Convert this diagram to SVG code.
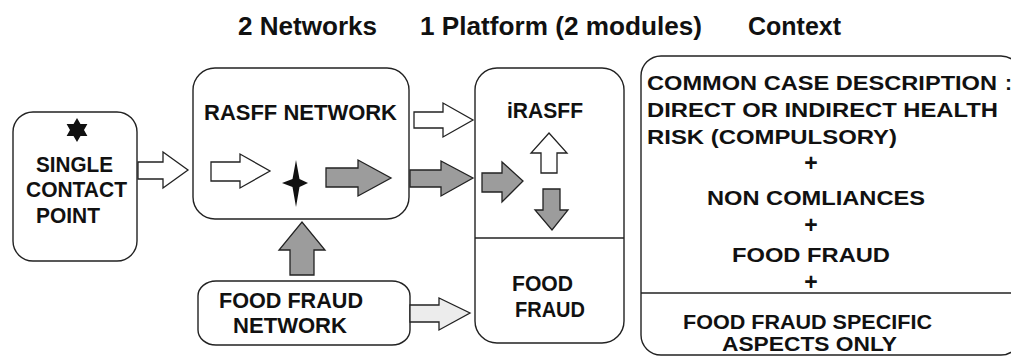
<svg xmlns="http://www.w3.org/2000/svg" width="1011" height="356" viewBox="0 0 1011 356">
<style>
  text { font-family: "Liberation Sans", Arial, sans-serif; font-weight: bold; fill: #111; }
  .title { font-size: 25px; }
  .lbl { font-size: 21.5px; }
  .ctx { font-size: 21px; }
  .plus { font-size: 23px; }
  .box { fill: #fff; stroke: #222; stroke-width: 1.4; }
  .line { stroke: #222; stroke-width: 1.4; fill: none; }
  .aw { fill: #fff; stroke: #222; stroke-width: 1.3; stroke-linejoin: miter; }
  .ag { fill: #9c9c9c; stroke: #222; stroke-width: 1.3; }
  .al { fill: #ececec; stroke: #222; stroke-width: 1.3; }
  .star { fill: #111; }
</style>
<rect width="1011" height="356" fill="#fff"/>

<g id="titles">
  <text class="title" x="238" y="35" textLength="139" lengthAdjust="spacingAndGlyphs">2 Networks</text>
  <text class="title" x="420" y="35" textLength="282" lengthAdjust="spacingAndGlyphs">1 Platform (2 modules)</text>
  <text class="title" x="748" y="35" textLength="93" lengthAdjust="spacingAndGlyphs">Context</text>
</g>

<g id="single-contact-point">
  <rect class="box" x="13" y="112" width="124" height="149" rx="20"/>
  <polygon class="star" points="77,118 80.5,123.9 87.4,124 84,130 87.4,136 80.5,136.1 77,142 73.5,136.1 66.6,136 70,130 66.6,124 73.5,123.9"/>
  <text class="lbl" x="36" y="172" textLength="77" lengthAdjust="spacingAndGlyphs">SINGLE</text>
  <text class="lbl" x="26" y="197" textLength="101" lengthAdjust="spacingAndGlyphs">CONTACT</text>
  <text class="lbl" x="36" y="223" textLength="64" lengthAdjust="spacingAndGlyphs">POINT</text>
</g>

<g id="rasff-network">
  <rect class="box" x="193" y="68" width="216" height="151" rx="22"/>
  <text class="lbl" x="204" y="120" textLength="193" lengthAdjust="spacingAndGlyphs">RASFF NETWORK</text>
  <polygon class="aw" points="211,162 240,162 240,154 270,171 240,188 240,181 211,181"/>
  <path class="star" d="M296,160 L299.5,179 L308,183 L299.5,187 L296,207 L292.5,187 L282,183 L292.5,179 Z"/>
  <polygon class="ag" points="326,168 358,168 358,160 391,178 358,196 358,187 326,187"/>
</g>

<g id="food-fraud-network">
  <rect class="box" x="198" y="281" width="212" height="64" rx="18" ry="15"/>
  <text class="lbl" x="219" y="308" textLength="144" lengthAdjust="spacingAndGlyphs">FOOD FRAUD</text>
  <text class="lbl" x="233" y="333" textLength="114" lengthAdjust="spacingAndGlyphs">NETWORK</text>
</g>

<g id="platform">
  <rect class="box" x="475" y="68" width="149" height="275" rx="22"/>
  <line class="line" x1="475" y1="238" x2="624" y2="238"/>
  <g id="irasff-module">
    <text class="lbl" x="507" y="118" textLength="76" lengthAdjust="spacingAndGlyphs">iRASFF</text>
    <polygon class="ag" points="482,173 502,173 502,162 523,181 502,202 502,192 482,192"/>
    <polygon class="aw" points="549,133 567,153 557,153 557,173 541,173 541,153 531,153"/>
    <polygon class="ag" points="543,189 560,189 560,210 568,210 552,230 535,210 543,210"/>
  </g>
  <g id="food-fraud-module">
    <text class="lbl" x="512" y="291" textLength="61" lengthAdjust="spacingAndGlyphs">FOOD</text>
    <text class="lbl" x="515" y="317" textLength="70" lengthAdjust="spacingAndGlyphs">FRAUD</text>
  </g>
</g>

<g id="context">
  <rect class="box" x="641" y="56" width="380" height="299" rx="20"/>
  <line class="line" x1="641" y1="293" x2="1011" y2="293"/>
  <text class="ctx" x="647" y="90"><tspan textLength="350" lengthAdjust="spacingAndGlyphs">COMMON CASE DESCRIPTION</tspan><tspan x="1005">:</tspan></text>
  <text class="ctx" x="647" y="117" textLength="351" lengthAdjust="spacingAndGlyphs">DIRECT OR INDIRECT HEALTH</text>
  <text class="ctx" x="647" y="144" textLength="250" lengthAdjust="spacingAndGlyphs">RISK (COMPULSORY)</text>
  <text class="ctx plus" x="811" y="171" text-anchor="middle">+</text>
  <text class="ctx" x="707" y="205" textLength="218" lengthAdjust="spacingAndGlyphs">NON COMLIANCES</text>
  <text class="ctx plus" x="811" y="233" text-anchor="middle">+</text>
  <text class="ctx" x="732" y="262" textLength="158" lengthAdjust="spacingAndGlyphs">FOOD FRAUD</text>
  <text class="ctx plus" x="811" y="290" text-anchor="middle">+</text>
  <text class="ctx" x="683" y="329" textLength="249" lengthAdjust="spacingAndGlyphs">FOOD FRAUD SPECIFIC</text>
  <text class="ctx" x="722" y="351" textLength="175" lengthAdjust="spacingAndGlyphs">ASPECTS ONLY</text>
</g>

<g id="connectors">
  <polygon class="aw" points="138,162 163,162 163,152 188,170 163,188 163,179 138,179"/>
  <polygon class="aw" points="414,112 443,112 443,103 473,120 443,137 443,128 414,128"/>
  <polygon class="ag" points="410,170 441,170 441,161 473,178 441,196 441,187 410,187"/>
  <polygon class="ag" points="290,275 290,250 279,250 302,222 325,250 314,250 314,275"/>
  <polygon class="al" points="410,305 439,305 439,298 470,313 439,330 439,322 410,322"/>
</g>
</svg>
